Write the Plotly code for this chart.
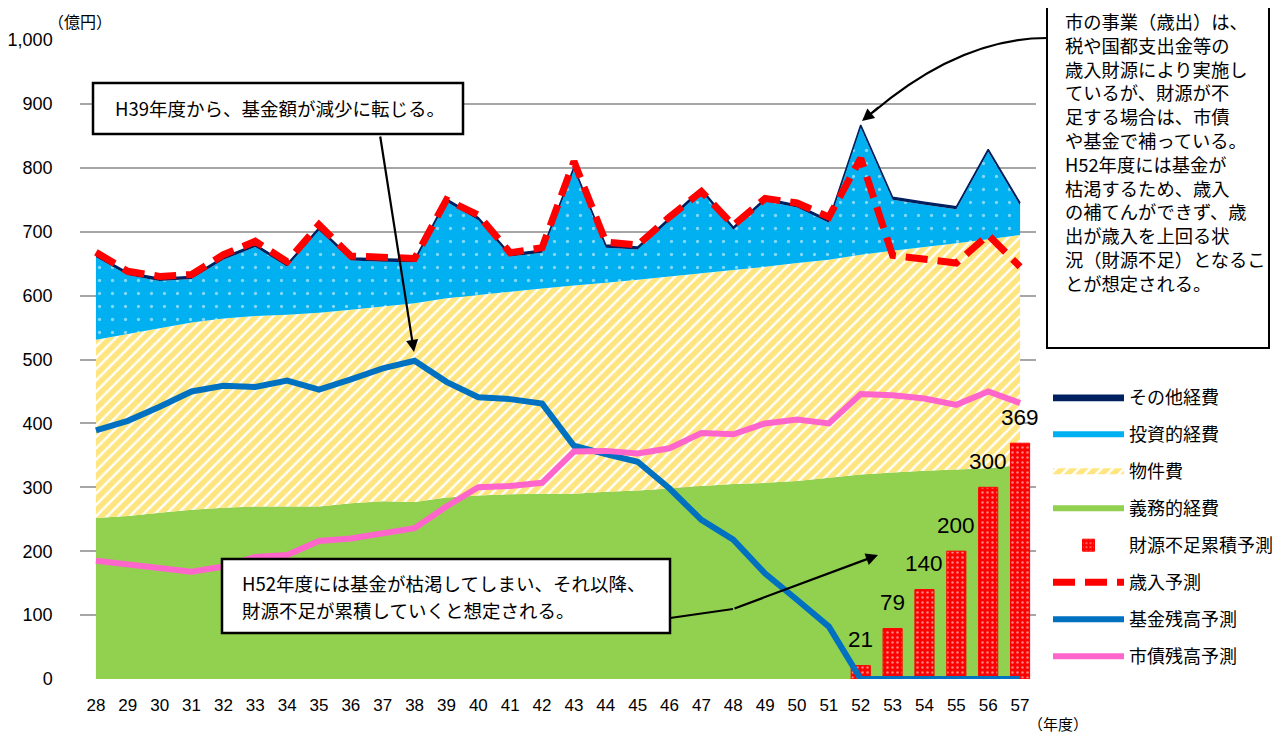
import plotly.graph_objects as go

# ---------------- data ----------------
years = list(range(28, 58))
year_labels = [str(y) for y in years]

gimu = [252, 255, 260, 265, 268, 270, 270, 270, 275, 278, 277, 284, 287, 289, 290,
        290, 293, 295, 298, 302, 305, 307, 310, 315, 320, 323, 326, 328, 330, 335]
bukken = [279, 285, 289, 293, 296, 298, 300, 303, 303, 305, 311, 312, 314, 317, 321,
          326, 327, 330, 332, 333, 335, 338, 341, 341, 344, 347, 350, 354, 358, 360]
toushi = [129, 92, 74, 68, 92, 108, 75, 129, 77, 70, 64, 151, 117, 55, 56,
          181, 55, 47, 87, 128, 63, 103, 87, 58, 199, 80, 66, 53, 137, 46]
sonota = [4, 4, 4, 4, 4, 4, 4, 4, 4, 4, 4, 4, 4, 4, 4,
          4, 4, 4, 4, 4, 4, 4, 4, 4, 4, 4, 4, 4, 4, 4]
revenue = [668, 638, 630, 633, 664, 685, 653, 711, 662, 660, 658, 750, 726, 667, 675,
           810, 684, 679, 723, 763, 710, 752, 745, 723, 815, 663, 656, 651, 695, 645]
fund = [389, 404, 426, 450, 459, 457, 467, 453, 469, 486, 498, 465, 441, 438, 431,
        365, 352, 340, 298, 249, 218, 165, 124, 82, 0, 0, 0, 0, 0, 0]
debt = [185, 180, 173, 168, 176, 191, 194, 216, 220, 227, 236, 270, 300, 302, 307,
        356, 357, 353, 361, 385, 383, 400, 406, 400, 446, 444, 439, 429, 450, 432]
short_years = [52, 53, 54, 55, 56, 57]
shortfall = [21, 79, 140, 200, 300, 369]

y_ticks = [0, 100, 200, 300, 400, 500, 600, 700, 800, 900, 1000]

JP = "Noto Sans CJK JP"
NUM = "Liberation Sans"

# ---------------- geometry helpers (page pixel -> paper) ----------------
OFF = 8                      # default page body margin
W, H = 1285 - OFF, 738 - OFF
PL, PR, PT, PB = 80, 1036, 40, 679   # plot area in page pixels


def px(x):
    return (x - PL) / (PR - PL)


def py(y):
    return (PB - y) / (PB - PT)


fig = go.Figure()

# stacked areas
fig.add_trace(go.Scatter(
    x=years, y=gimu, name="義務的経費", stackgroup="exp", mode="none",
    fillcolor="#92D050", legendgroup="g4", legendrank=4, zorder=0))
fig.add_trace(go.Scatter(
    x=years, y=bukken, name="物件費", stackgroup="exp", mode="none",
    fillcolor="#FFFFFF",
    fillpattern=dict(shape="/", fgcolor="#FFCC00", bgcolor="#FFFFFF", size=8, solidity=0.7),
    legendgroup="g3", legendrank=3, zorder=0))
fig.add_trace(go.Scatter(
    x=years, y=toushi, name="投資的経費", stackgroup="exp", mode="none",
    fillcolor="#00B0F0",
    fillpattern=dict(shape=".", fgcolor="#FFFFFF", bgcolor="#00B0F0", size=13, solidity=0.05),
    legendgroup="g2", legendrank=2, zorder=0))
fig.add_trace(go.Scatter(
    x=years, y=sonota, name="その他経費", stackgroup="exp", mode="lines",
    line=dict(color="#002060", width=1.5), fillcolor="#002060",
    legendgroup="g1", legendrank=1, zorder=0))

# shortfall bars
fig.add_trace(go.Bar(
    x=short_years, y=shortfall, name="財源不足累積予測", width=0.6,
    marker=dict(color="#FF0000", line=dict(color="#FF0000", width=1),
                pattern=dict(shape=".", fgcolor="#FFFFFF", bgcolor="#FF0000",
                             size=5, solidity=0.2)),
    legendgroup="g5", legendrank=5, zorder=1))

# lines
fig.add_trace(go.Scatter(
    x=years, y=revenue, name="歳入予測", mode="lines",
    line=dict(color="#FF0000", width=7, dash="22px,10px"),
    legendgroup="g6", legendrank=6, zorder=3))
fig.add_trace(go.Scatter(
    x=years, y=fund, name="基金残高予測", mode="lines",
    line=dict(color="#0070C0", width=6),
    legendgroup="g7", legendrank=7, zorder=2))
fig.add_trace(go.Scatter(
    x=years, y=debt, name="市債残高予測", mode="lines",
    line=dict(color="#FF66CC", width=6),
    legendgroup="g8", legendrank=8, zorder=2))

annotations = []
# bar value labels
for yr, v in zip(short_years, shortfall):
    annotations.append(dict(x=yr, y=v, xref="x", yref="y", text=str(v), showarrow=False,
                            xanchor="center", yanchor="middle", yshift=26,
                            font=dict(family=NUM, size=22.5, color="#000000")))


def label(x, y, text, size=18.5, xanchor="left", yanchor="middle", align="left"):
    return dict(x=px(x), y=py(y), xref="paper", yref="paper", text=text, showarrow=False,
                xanchor=xanchor, yanchor=yanchor, align=align,
                font=dict(family=JP, size=size, color="#000"))


# axis unit labels
annotations.append(label(80, 21, "（億円）", size=16, xanchor="center"))
annotations.append(label(1058, 724, "（年度）", size=15, xanchor="center"))

# text boxes
annotations.append(label(113, 108, "H39年度から、基金額が減少に転じる。"))
annotations.append(label(240, 583, "H52年度には基金が枯渇してしまい、それ以降、"))
annotations.append(label(240, 610, "財源不足が累積していくと想定される。"))
right_text = ("市の事業（歳出）は、<br>税や国都支出金等の<br>歳入財源により実施し<br>"
              "ているが、財源が不<br>足する場合は、市債<br>や基金で補っている。<br>"
              "H52年度には基金が<br>枯渇するため、歳入<br>の補てんができず、歳<br>"
              "出が歳入を上回る状<br>況（財源不足）となるこ<br>とが想定される。")
annotations.append(label(1063, 6, right_text, size=18.3, yanchor="top"))


# arrows
def arrow(tip, tail):
    return dict(x=px(tip[0]), y=py(tip[1]), xref="paper", yref="paper", text="",
                showarrow=True, ax=tail[0] - tip[0], ay=tail[1] - tip[1],
                arrowhead=2, arrowsize=1.1, arrowwidth=2.2, arrowcolor="#000", standoff=0)


annotations.append(arrow((414, 352), (380, 135)))
annotations.append(arrow((862, 121), (880, 106)))
annotations.append(arrow((878, 555), (733, 609)))

curve = "M {:.5f},{:.5f} Q {:.5f},{:.5f} {:.5f},{:.5f}".format(
    px(1047), py(38), px(960), py(38), px(872), py(113))

shapes = [
    dict(type="rect", xref="paper", yref="paper", x0=px(93), x1=px(463), y0=py(83), y1=py(134),
         line=dict(color="#000", width=2.5), fillcolor="#FFFFFF", layer="above"),
    dict(type="rect", xref="paper", yref="paper", x0=px(222), x1=px(670), y0=py(559), y1=py(633),
         line=dict(color="#000", width=2.5), fillcolor="#FFFFFF", layer="above"),
    dict(type="rect", xref="paper", yref="paper", x0=px(1047), x1=px(1269), y0=py(-6), y1=py(348),
         line=dict(color="#000", width=2), fillcolor="#FFFFFF", layer="above"),
    dict(type="line", xref="paper", yref="paper", x0=px(670), x1=px(733), y0=py(618), y1=py(609),
         line=dict(color="#000", width=2.2), layer="above"),
    dict(type="path", xref="paper", yref="paper", path=curve,
         line=dict(color="#000", width=2.2), layer="above"),
]

fig.update_layout(
    width=W, height=H,
    margin=dict(l=PL - OFF, r=1285 - PR, t=PT - OFF, b=738 - PB, autoexpand=False),
    paper_bgcolor="#FFFFFF", plot_bgcolor="#FFFFFF",
    barmode="overlay",
    showlegend=True,
    legend=dict(x=px(1048), xanchor="left", y=py(379), yanchor="top",
                font=dict(family=JP, size=18, color="#000"),
                traceorder="grouped", tracegroupgap=10.6, itemwidth=71,
                bgcolor="rgba(0,0,0,0)"),
    xaxis=dict(range=[27.5, 57.5], tickmode="array", tickvals=years, ticktext=year_labels,
               showgrid=False, showline=True, linecolor="#A6A6A6", linewidth=1.5,
               ticks="", ticklabelstandoff=10, automargin=False,
               tickfont=dict(family=NUM, size=17, color="#000"), zeroline=False),
    yaxis=dict(range=[0, 1000], tickmode="array", tickvals=y_ticks,
               ticktext=[f"{v:,}" for v in y_ticks],
               showgrid=True, gridcolor="#A6A6A6", gridwidth=1.5,
               showline=True, linecolor="#A6A6A6", linewidth=1.5,
               ticks="", ticklabelstandoff=22, automargin=False,
               tickfont=dict(family=NUM, size=18, color="#000"), zeroline=False),
    annotations=annotations,
    shapes=shapes,
)

fig.write_html("out.html")
